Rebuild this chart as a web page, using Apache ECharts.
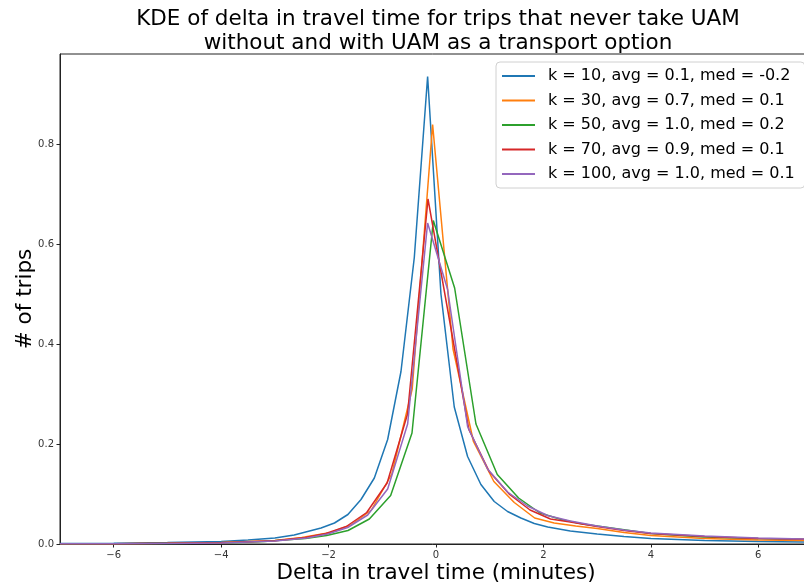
<!DOCTYPE html>
<html>
<head>
<meta charset="utf-8">
<script src="https://cdn.jsdelivr.net/npm/echarts@6/dist/echarts.min.js"></script>
<style>
  html, body { margin: 0; padding: 0; background: #fff; overflow: hidden; }
  #chart { width: 804px; height: 588px; }
</style>
</head>
<body>
<div id="chart"></div>
<script>
// KDE curves, one per k value: x positions (minutes) and estimated density
const seriesNames = [
  'k = 10, avg = 0.1, med = -0.2',
  'k = 30, avg = 0.7, med = 0.1',
  'k = 50, avg = 1.0, med = 0.2',
  'k = 70, avg = 0.9, med = 0.1',
  'k = 100, avg = 1.0, med = 0.1'
];

const xK10 = [-7, -6, -5, -4, -3.5, -3, -2.64, -2.39, -2.14, -1.89, -1.64, -1.396, -1.148, -0.9, -0.652, -0.404, -0.156, 0.092, 0.34, 0.588, 0.836, 1.084, 1.332, 1.58, 1.83, 2.08, 2.5, 3, 3.5, 4, 5, 6, 7];
const yK10 = [0.0008, 0.0015, 0.003, 0.005, 0.008, 0.012, 0.018, 0.025, 0.032, 0.042, 0.059, 0.089, 0.132, 0.209, 0.345, 0.573, 0.935, 0.50, 0.274, 0.175, 0.119, 0.085, 0.065, 0.052, 0.041, 0.034, 0.026, 0.02, 0.015, 0.011, 0.007, 0.005, 0.004];

const xK30 = [-7, -6, -5, -4, -3, -2.5, -1.963, -1.583, -1.203, -0.823, -0.443, -0.063, 0.317, 0.697, 1.077, 1.457, 1.837, 2.2, 2.6, 3, 3.5, 4, 5, 6, 7];
const yK30 = [0.0003, 0.0007, 0.0015, 0.003, 0.007, 0.013, 0.023, 0.038, 0.068, 0.14, 0.31, 0.839, 0.39, 0.205, 0.125, 0.083, 0.052, 0.042, 0.036, 0.031, 0.023, 0.017, 0.011, 0.008, 0.007];

const xK50 = [-7, -6, -5, -4, -3.2, -2.829, -2.432, -2.035, -1.638, -1.241, -0.844, -0.447, -0.05, 0.347, 0.744, 1.141, 1.538, 1.935, 2.332, 2.729, 3.2, 3.6, 4, 5, 6, 7];
const yK50 = [0.0002, 0.0005, 0.001, 0.002, 0.005, 0.008, 0.011, 0.017, 0.027, 0.05, 0.097, 0.222, 0.647, 0.512, 0.24, 0.139, 0.092, 0.062, 0.049, 0.04, 0.033, 0.027, 0.021, 0.014, 0.011, 0.009];

const xK70 = [-7, -6, -5, -4, -3, -2.43, -2.05, -1.67, -1.29, -0.91, -0.53, -0.149, 0.231, 0.611, 0.991, 1.371, 1.751, 2.131, 2.5, 3, 3.5, 4, 5, 6, 7];
const yK70 = [0.0003, 0.0006, 0.0013, 0.0025, 0.0065, 0.013, 0.021, 0.035, 0.063, 0.122, 0.26, 0.69, 0.46, 0.229, 0.145, 0.099, 0.068, 0.05, 0.044, 0.035, 0.027, 0.021, 0.015, 0.011, 0.009];

const xK100 = [-7, -6, -5, -4, -3, -2.4, -2.016, -1.644, -1.272, -0.9, -0.528, -0.156, 0.216, 0.588, 0.96, 1.332, 1.704, 2.076, 2.5, 3, 3.5, 4, 5, 6, 7];
const yK100 = [0.0003, 0.0006, 0.0012, 0.0022, 0.006, 0.012, 0.02, 0.033, 0.058, 0.11, 0.24, 0.642, 0.509, 0.235, 0.15, 0.104, 0.076, 0.057, 0.046, 0.036, 0.028, 0.022, 0.016, 0.012, 0.0095];

const xTicks = [-6, -4, -2, 0, 2, 4, 6];
const yTicks = [0, 0.2, 0.4, 0.6, 0.8];

const curves = [[xK10, yK10], [xK30, yK30], [xK50, yK50], [xK70, yK70], [xK100, yK100]];
const colors = ['#1f77b4', '#ff7f0e', '#2ca02c', '#d62728', '#9467bd'];

const FONT = 'DejaVu Sans';
const chart = echarts.init(document.getElementById('chart'), null, { renderer: 'canvas' });

chart.setOption({
  animation: false,
  backgroundColor: '#ffffff',
  color: colors,
  graphic: [{
    type: 'text',
    x: 438,
    y: 7,
    style: {
      text: 'KDE of delta in travel time for trips that never take UAM\nwithout and with UAM as a transport option',
      font: '21.5px "DejaVu Sans"',
      fill: '#000',
      textAlign: 'center',
      lineHeight: 24
    }
  }],
  grid: {
    left: 60, top: 54, width: 752, height: 490,
    outerBoundsMode: 'none',
    containLabel: false,
    show: true, borderColor: '#222', borderWidth: 1, backgroundColor: 'transparent'
  },
  legend: {
    orient: 'vertical',
    left: 496, top: 62,
    padding: [5, 10, 5, 6],
    itemGap: 6.5,
    icon: 'rect',
    itemWidth: 33, itemHeight: 1.8,
    borderColor: '#d0d0d0', borderWidth: 1, borderRadius: 4,
    backgroundColor: 'rgba(255,255,255,0.8)',
    textStyle: { fontFamily: FONT, fontSize: 16, color: '#000', lineHeight: 18, padding: [0, 0, 0, 8] },
    data: seriesNames
  },
  xAxis: {
    type: 'value', min: -7, max: 7,
    name: 'Delta in travel time (minutes)',
    nameLocation: 'middle', nameGap: 18, nameMoveOverlap: false,
    nameTextStyle: { fontFamily: FONT, fontSize: 21.5, color: '#000' },
    axisLine: { show: true, onZero: false, lineStyle: { color: '#222', width: 1 } },
    axisTick: { show: true, length: 3.5, lineStyle: { color: '#222' }, customValues: xTicks },
    axisLabel: {
      fontFamily: FONT, fontSize: 10, color: '#333', margin: 6,
      customValues: xTicks,
      formatter: v => String(v).replace('-', '\u2212')
    },
    splitLine: { show: false }
  },
  yAxis: {
    type: 'value', min: 0, max: 0.98,
    name: '# of trips',
    nameLocation: 'middle', nameGap: 24, nameRotate: 90, nameMoveOverlap: false,
    nameTextStyle: { fontFamily: FONT, fontSize: 21.5, color: '#000' },
    axisLine: { show: true, onZero: false, lineStyle: { color: '#222', width: 1 } },
    axisTick: { show: true, length: 3.5, lineStyle: { color: '#222' }, customValues: yTicks },
    axisLabel: {
      fontFamily: FONT, fontSize: 10, color: '#333', margin: 6,
      customValues: yTicks,
      formatter: v => v.toFixed(1)
    },
    splitLine: { show: false }
  },
  series: curves.map((c, i) => ({
    name: seriesNames[i],
    type: 'line',
    symbol: 'none',
    clip: true,
    lineStyle: { width: 1.5, color: colors[i] },
    data: c[0].map((x, j) => [x, c[1][j]])
  }))
});
</script>
</body>
</html>
